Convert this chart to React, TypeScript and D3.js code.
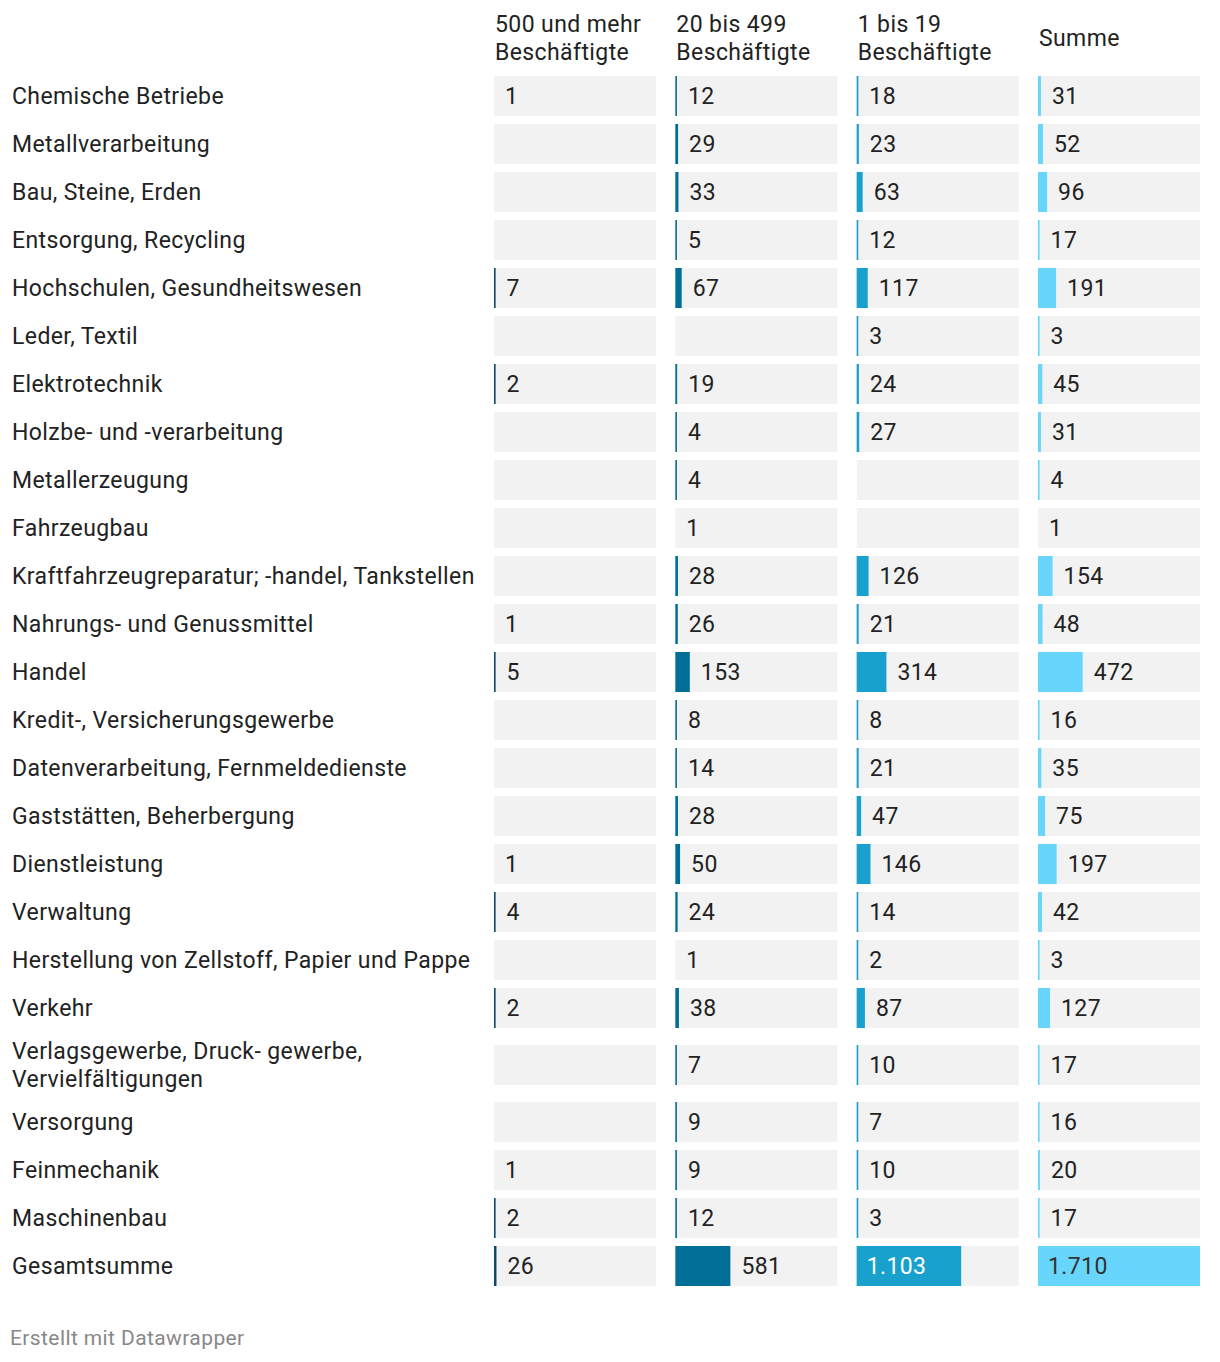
import React from "react";
import * as d3 from "d3";

const categories: string[] = [
  "Chemische Betriebe",
  "Metallverarbeitung",
  "Bau, Steine, Erden",
  "Entsorgung, Recycling",
  "Hochschulen, Gesundheitswesen",
  "Leder, Textil",
  "Elektrotechnik",
  "Holzbe- und -verarbeitung",
  "Metallerzeugung",
  "Fahrzeugbau",
  "Kraftfahrzeugreparatur; -handel, Tankstellen",
  "Nahrungs- und Genussmittel",
  "Handel",
  "Kredit-, Versicherungsgewerbe",
  "Datenverarbeitung, Fernmeldedienste",
  "Gaststätten, Beherbergung",
  "Dienstleistung",
  "Verwaltung",
  "Herstellung von Zellstoff, Papier und Pappe",
  "Verkehr",
  "Verlagsgewerbe, Druck- gewerbe,|Vervielfältigungen",
  "Versorgung",
  "Feinmechanik",
  "Maschinenbau",
  "Gesamtsumme",
];

const columns: string[] = [
  "500 und mehr|Beschäftigte",
  "20 bis 499|Beschäftigte",
  "1 bis 19|Beschäftigte",
  "Summe",
];

const s500: (number | null)[] = [1, null, null, null, 7, null, 2, null, null, null, null, 1, 5, null, null, null, 1, 4, null, 2, null, null, 1, 2, 26];
const s20: (number | null)[] = [12, 29, 33, 5, 67, null, 19, 4, 4, 1, 28, 26, 153, 8, 14, 28, 50, 24, 1, 38, 7, 9, 9, 12, 581];
const s1: (number | null)[] = [18, 23, 63, 12, 117, 3, 24, 27, null, null, 126, 21, 314, 8, 21, 47, 146, 14, 2, 87, 10, 7, 10, 3, 1103];
const sSum: (number | null)[] = [31, 52, 96, 17, 191, 3, 45, 31, 4, 1, 154, 48, 472, 16, 35, 75, 197, 42, 3, 127, 17, 16, 20, 17, 1710];

const series = [s500, s20, s1, sSum];
const colors = ["#0b4a70", "#006f98", "#18a1cd", "#68d6fc"];
const insideText = ["#ffffff", "#ffffff", "#ffffff", "#333333"];

const W = 1220;
const H = 1362;
const FONT = "Roboto, 'Noto Sans', sans-serif";
const FS = 23;
const LS = 0.4;

export default function App() {
  const fmt = d3.formatLocale({ decimal: ",", thousands: ".", grouping: [3], currency: ["", "€"] }).format(",d");
  const xBand = d3.scaleBand<number>().domain([0, 1, 2, 3]).range([494, 1200]).paddingInner(0.1066).paddingOuter(0);
  const bw = xBand.bandwidth();
  const maxV = d3.max(series.flat().map((v) => v ?? 0)) as number;
  const xv = d3.scaleLinear().domain([0, maxV]).range([0, bw]);

  const rowHeights = categories.map((c) => (c.includes("|") ? 66 : 48));
  const rowTops: number[] = [];
  let acc = 72;
  rowHeights.forEach((h) => {
    rowTops.push(acc);
    acc += h;
  });
  const cellH = 40;

  const measure = (t: string) => t.length * 12;

  return (
    <svg width={W} height={H} style={{ position: "absolute", left: 0, top: 0, background: "#fff" }} fontFamily={FONT} letterSpacing={LS}>
      {columns.map((c, ci) => {
        const lines = c.split("|");
        const cy = 38;
        return (
          <text key={"h" + ci} fontSize={FS} fill="#222">
            {lines.map((l, li) => (
              <tspan key={li} x={xBand(ci)! + 1} y={cy + (li - (lines.length - 1) / 2) * 28} dominantBaseline="central">
                {l}
              </tspan>
            ))}
          </text>
        );
      })}
      {categories.map((cat, ri) => {
        const top = rowTops[ri];
        const h = rowHeights[ri];
        const cy = top + h / 2;
        const lines = cat.split("|");
        return (
          <g key={"r" + ri}>
            <text fontSize={FS} fill="#222">
              {lines.map((l, li) => (
                <tspan key={li} x={12} y={cy + (li - (lines.length - 1) / 2) * 28} dominantBaseline="central">
                  {l}
                </tspan>
              ))}
            </text>
            {series.map((s, ci) => {
              const x0 = xBand(ci)!;
              const v = s[ri];
              let w = v == null ? 0 : xv(v);
              if (v != null && v >= 2) w = Math.max(w, 1.6);
              if (v != null && v < 2) w = 0;
              const label = v == null ? "" : fmt(v);
              const tw = measure(label);
              const inside = x0 + w + 11 + tw > x0 + bw;
              return (
                <g key={ci}>
                  <rect x={x0} y={cy - cellH / 2} width={bw} height={cellH} fill="#f2f2f2" />
                  {w > 0 && <rect x={x0} y={cy - cellH / 2} width={w} height={cellH} fill={colors[ci]} />}
                  {v != null && (
                    <text
                      x={inside ? x0 + 10 : x0 + w + 11}
                      y={cy}
                      dominantBaseline="central"
                      fontSize={FS}
                      fill={inside ? insideText[ci] : "#222"}
                    >
                      {label}
                    </text>
                  )}
                </g>
              );
            })}
          </g>
        );
      })}
      <text x={10} y={1338} dominantBaseline="central" fontSize={21} fill="#888">
        Erstellt mit Datawrapper
      </text>
    </svg>
  );
}
